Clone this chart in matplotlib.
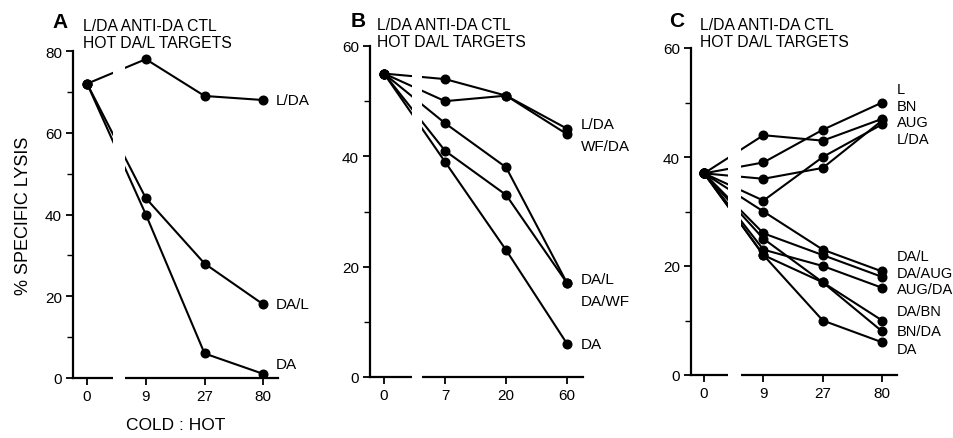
import matplotlib
matplotlib.use("Agg")
import matplotlib.pyplot as plt

plt.rcParams['font.family'] = ['Liberation Sans', 'DejaVu Sans']

# ---------------- data ----------------
ticks_A = ["0", "9", "27", "80"]
ticks_B = ["0", "7", "20", "60"]
ticks_C = ["0", "9", "27", "80"]

A_names = ["L/DA", "DA/L", "DA"]
A_LDA = [72, 78, 69, 68]
A_DAL = [72, 44, 28, 18]
A_DA = [72, 40, 6, 1]
A_label_y = [68, 18, 3.5]

B_names = ["L/DA", "WF/DA", "DA/L", "DA/WF", "DA"]
B_LDA = [55, 54, 51, 45]
B_WFDA = [55, 50, 51, 44]
B_DAL = [55, 46, 38, 17]
B_DAWF = [55, 41, 33, 17]
B_DA = [55, 39, 23, 6]
B_label_y = [45.8, 41.8, 17.8, 13.8, 6]

C_names = ["L", "BN", "AUG", "L/DA", "DA/L", "DA/AUG", "AUG/DA", "DA/BN", "BN/DA", "DA"]
C_L = [37, 39, 45, 50]
C_BN = [37, 44, 43, 47]
C_AUG = [37, 36, 38, 46.7]
C_LDA = [37, 32, 40, 46]
C_DAL = [37, 30, 23, 19]
C_DAAUG = [37, 26, 22, 18]
C_AUGDA = [37, 23, 20, 16]
C_DABN = [37, 25, 17, 10]
C_BNDA = [37, 22, 17, 8]
C_DA = [37, 22, 10, 6]
C_label_y = [52.5, 49.4, 46.5, 43.3, 21.9, 18.7, 15.8, 11.8, 8.1, 4.8]

title_lines = "L/DA ANTI-DA CTL\nHOT DA/L TARGETS"

W, H = 954, 439
fig = plt.figure(figsize=(W / 100, H / 100), dpi=100)


def make_ax(left_px, right_px, top_px, bottom_px):
    return fig.add_axes([left_px / W, 1 - bottom_px / H,
                         (right_px - left_px) / W, (bottom_px - top_px) / H])


def panel(ax, series, names, label_y, ticklabels, ymax, xlim, gap,
          letter, letter_px, title_px, label_dx, label_fs, ylabel=None):
    xs = list(range(len(ticklabels)))
    for s in series:
        ax.plot(xs, s, color='black', lw=1.5, marker='o', ms=6.2,
                solid_capstyle='butt', zorder=3)
    ax.set_xlim(*xlim)
    ax.set_ylim(0, ymax)
    ax.set_xticks(xs)
    ax.set_xticklabels(ticklabels, fontsize=11)
    ax.set_yticks(list(range(0, ymax + 1, 20)))
    ax.set_yticks(list(range(10, ymax, 20)), minor=True)
    ax.tick_params(axis='both', which='major', direction='out', length=5,
                   width=1.3, labelsize=11, pad=3)
    ax.tick_params(axis='y', which='minor', direction='out', length=4, width=1)
    for sp in ['top', 'right']:
        ax.spines[sp].set_visible(False)
    for sp in ['left', 'bottom']:
        ax.spines[sp].set_linewidth(1.6)
    ax.patch.set_alpha(0)
    # axis break
    ax.axvspan(gap[0], gap[1], ymin=-0.03, ymax=1.0, color='white',
               zorder=5, clip_on=False, lw=0)
    for name, yv in zip(names, label_y):
        ax.text(3 + label_dx, yv, name, fontsize=label_fs, va='center',
                ha='left', clip_on=False)
    fig.text(letter_px[0] / W, 1 - letter_px[1] / H, letter, fontsize=15,
             fontweight='bold', ha='right', va='baseline')
    fig.text(title_px[0] / W, 1 - title_px[1] / H, title_lines, fontsize=11.3,
             ha='left', va='top', linespacing=1.2)
    if ylabel:
        ax.set_ylabel(ylabel, fontsize=13, labelpad=9)


axA = make_ax(73, 278, 52, 379)
panel(axA, [A_LDA, A_DAL, A_DA], A_names, A_label_y, ticks_A, 80,
      (-0.24, 3.25), (0.44, 0.65), "A", (68, 28), (83, 19), 0.22, 11,
      ylabel="% SPECIFIC LYSIS")
axA.set_xlabel("COLD : HOT", fontsize=12.5, labelpad=10)

axB = make_ax(370, 583, 47, 378)
panel(axB, [B_LDA, B_WFDA, B_DAL, B_DAWF, B_DA], B_names, B_label_y, ticks_B,
      60, (-0.23, 3.26), (0.46, 0.62), "B", (366, 27), (377, 18), 0.22, 11)

axC = make_ax(691, 897, 49, 376)
panel(axC, [C_L, C_BN, C_AUG, C_LDA, C_DAL, C_DAAUG, C_AUGDA, C_DABN, C_BNDA, C_DA],
      C_names, C_label_y, ticks_C, 60, (-0.22, 3.25), (0.40, 0.62), "C",
      (684, 27), (700, 18), 0.25, 10.5)

fig.savefig("out.png", dpi=100)
